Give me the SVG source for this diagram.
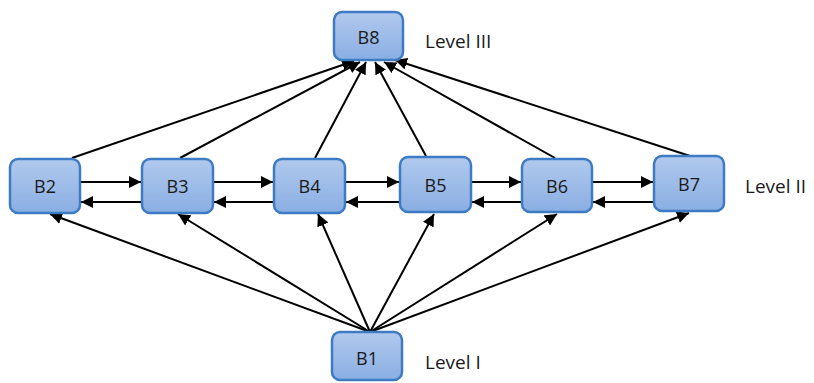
<svg xmlns="http://www.w3.org/2000/svg" width="814" height="383" viewBox="0 0 814 383">
<style>
.box{fill:url(#g);stroke:#3d7cc4;stroke-width:2.5}
.lbl{font-family:"Open Sans","Liberation Sans",sans-serif;font-size:18px;fill:#1a1a1a;text-anchor:middle;dominant-baseline:central}
.lvl{font-family:"Open Sans","Liberation Sans",sans-serif;font-size:19px;fill:#1a1a1a;dominant-baseline:central}
.c{stroke:#000;stroke-width:2;fill:none;marker-end:url(#a)}
</style>
<defs>
<linearGradient id="g" x1="0" y1="0" x2="0" y2="1">
<stop offset="0" stop-color="#b0c9ee"/>
<stop offset="1" stop-color="#8aaee2"/>
</linearGradient>
<marker id="a" viewBox="0 0 10 10" refX="10" refY="5" markerWidth="6" markerHeight="6" markerUnits="strokeWidth" orient="auto">
<path d="M0,0 L10,5 L0,10 z" fill="#000"/>
</marker>
</defs>
<rect width="814" height="383" fill="#fff"/>
<g id="connectors">
<line class="c" x1="370" y1="332" x2="50" y2="214"/>
<line class="c" x1="370" y1="332" x2="178" y2="214"/>
<line class="c" x1="370" y1="332" x2="318" y2="214"/>
<line class="c" x1="370" y1="332" x2="434" y2="214"/>
<line class="c" x1="370" y1="332" x2="557" y2="214"/>
<line class="c" x1="370" y1="332" x2="689" y2="213"/>
<line class="c" x1="72" y1="158" x2="354" y2="61"/>
<line class="c" x1="180" y1="158" x2="360" y2="62"/>
<line class="c" x1="315" y1="158" x2="366" y2="62"/>
<line class="c" x1="426" y1="156" x2="375" y2="62"/>
<line class="c" x1="555" y1="158" x2="384" y2="62"/>
<line class="c" x1="690" y1="156" x2="395" y2="60"/>
<line class="c" x1="81" y1="182" x2="141" y2="182"/>
<line class="c" x1="141" y1="202" x2="81" y2="202"/>
<line class="c" x1="214" y1="182" x2="273" y2="182"/>
<line class="c" x1="273" y1="202" x2="214" y2="202"/>
<line class="c" x1="346" y1="182" x2="399" y2="182"/>
<line class="c" x1="399" y1="202" x2="346" y2="202"/>
<line class="c" x1="472" y1="182" x2="521" y2="182"/>
<line class="c" x1="521" y1="202" x2="472" y2="202"/>
<line class="c" x1="593" y1="182" x2="653" y2="182"/>
<line class="c" x1="653" y1="202" x2="593" y2="202"/>
</g>
<g id="B8"><rect class="box" x="334" y="12" width="69" height="48" rx="8"/><text class="lbl" x="368.5" y="37">B8</text></g>
<g id="B2"><rect class="box" x="10" y="159" width="70" height="54" rx="8"/><text class="lbl" x="45" y="186">B2</text></g>
<g id="B3"><rect class="box" x="142" y="159" width="71" height="54" rx="8"/><text class="lbl" x="177.5" y="186">B3</text></g>
<g id="B4"><rect class="box" x="274" y="159" width="71" height="54" rx="8"/><text class="lbl" x="309.5" y="186">B4</text></g>
<g id="B5"><rect class="box" x="400" y="157" width="71" height="55" rx="8"/><text class="lbl" x="435.5" y="185">B5</text></g>
<g id="B6"><rect class="box" x="522" y="159" width="70" height="53" rx="8"/><text class="lbl" x="557" y="186">B6</text></g>
<g id="B7"><rect class="box" x="654" y="156" width="70" height="55" rx="8"/><text class="lbl" x="689" y="184">B7</text></g>
<g id="B1"><rect class="box" x="332" y="332" width="70" height="48" rx="8"/><text class="lbl" x="367" y="358">B1</text></g>
<text class="lvl" x="425" y="41">Level III</text>
<text class="lvl" x="745" y="186">Level II</text>
<text class="lvl" x="425" y="362">Level I</text>
</svg>
